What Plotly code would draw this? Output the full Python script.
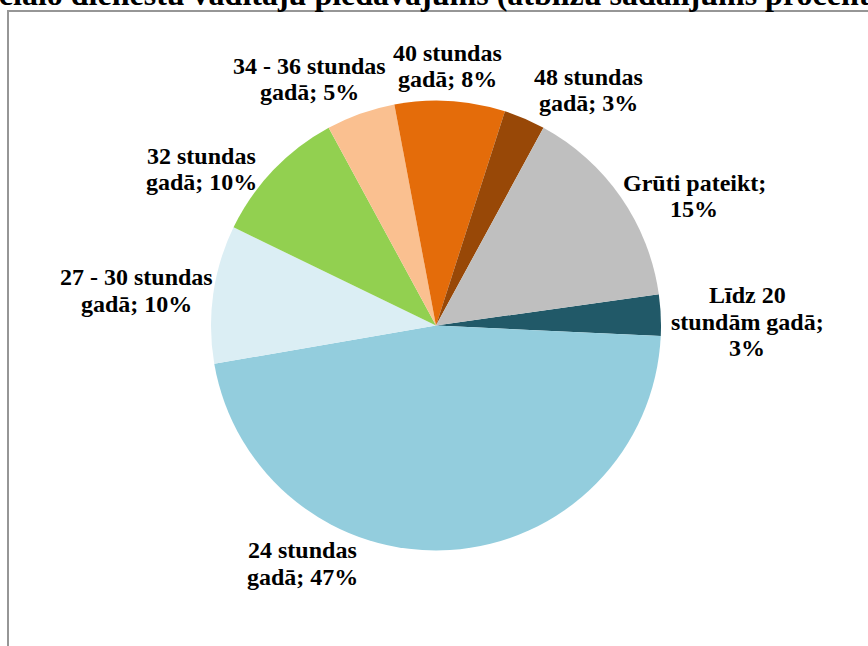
import plotly.graph_objects as go

# Survey answers: offered supervision hours per year (share of respondents, %)
categories = [
    "Līdz 20 stundām gadā",
    "24 stundas gadā",
    "27 - 30 stundas gadā",
    "32 stundas gadā",
    "34 - 36 stundas gadā",
    "40 stundas gadā",
    "48 stundas gadā",
    "Grūti pateikt",
]
shares = [3, 47, 10, 10, 5, 8, 3, 15]
colors = ["#215968", "#93CDDD", "#DBEEF4", "#92D050",
          "#FAC090", "#E46C0A", "#984807", "#BFBFBF"]

title_text = "Sociālo dienestu vadītāju piedāvājums (atbilžu sadalījums procentos)"

# Words per line for each data label
label_wraps = [[2, 2, 1], [2, 2], [4, 2], [2, 2], [4, 2], [2, 2], [2, 2], [2, 1]]
# Label placement in pixels: centre x, first baseline y
label_pos = [(747, 303), (302, 558), (136, 285), (201, 164),
             (309, 74), (447, 61), (588, 85), (694, 191)]

W, H = 868, 646
FONT = "Liberation Serif"
LABEL_SIZE = 24
LINE_STEP = 26.6
TITLE_SIZE = 32


def px_x(x):
    return x / W


def px_y(y):
    return 1 - y / H


# Pie geometry (pixels)
cx, cy, r = 436, 325.5, 225

fig = go.Figure(
    go.Pie(
        labels=categories,
        values=shares,
        sort=False,
        direction="clockwise",
        rotation=82,
        marker=dict(colors=colors, line=dict(width=0)),
        textinfo="none",
        hoverinfo="skip",
        showlegend=False,
        domain=dict(x=[px_x(cx - r), px_x(cx + r)],
                    y=[px_y(cy + r), px_y(cy - r)]),
    )
)

annotations = []
for cat, val, wrap, (lx, ly) in zip(categories, shares, label_wraps, label_pos):
    words = f"{cat}; {val}%".split(" ")
    lines, i = [], 0
    for n in wrap:
        lines.append(" ".join(words[i:i + n]))
        i += n
    for k, line in enumerate(lines):
        base = ly + k * LINE_STEP
        annotations.append(dict(
            text=line, xref="paper", yref="paper",
            x=px_x(lx), y=px_y(base - 0.3375 * LABEL_SIZE),
            xanchor="center", yanchor="middle", showarrow=False,
            font=dict(family=FONT, size=LABEL_SIZE, color="black", weight="bold"),
        ))

# Chart title, running past the top edge of the frame
annotations.append(dict(
    text=title_text, xref="paper", yref="paper",
    x=px_x(-37), y=px_y(5 - 0.3375 * TITLE_SIZE),
    xanchor="left", yanchor="middle", showarrow=False,
    font=dict(family=FONT, size=TITLE_SIZE, color="black", weight="bold"),
))

fig.update_layout(
    width=W, height=H,
    margin=dict(l=0, r=0, t=0, b=0),
    paper_bgcolor="white",
    plot_bgcolor="white",
    annotations=annotations,
    shapes=[dict(
        type="rect", xref="paper", yref="paper",
        x0=px_x(8), y0=px_y(11), x1=px_x(W + 20), y1=px_y(H + 20),
        line=dict(color="#969696", width=2), fillcolor="rgba(0,0,0,0)",
        layer="below",
    )],
)

fig.write_html("out.html")
